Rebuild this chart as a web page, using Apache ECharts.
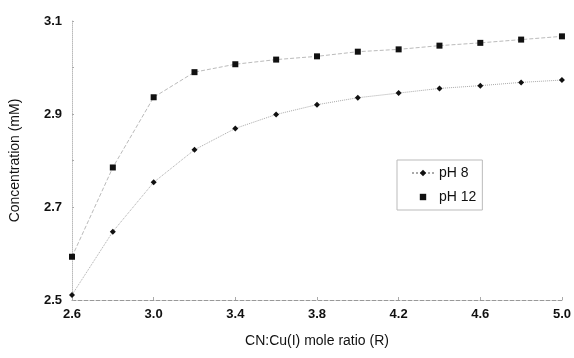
<!DOCTYPE html>
<html>
<head>
<meta charset="utf-8">
<script src="https://cdn.jsdelivr.net/npm/echarts@6/dist/echarts.min.js"></script>
<style>
  html, body { margin: 0; padding: 0; background: #fff; }
  #chart { width: 574px; height: 358px; }
</style>
</head>
<body>
<div id="chart"></div>
<script>
// CN:Cu(I) mole ratio (R)
const ratios = ['2.6', '2.8', '3.0', '3.2', '3.4', '3.6', '3.8', '4.0', '4.2', '4.4', '4.6', '4.8', '5.0'];
// Concentration (mM)
const ph8 = [2.511, 2.647, 2.753, 2.823, 2.869, 2.899, 2.920, 2.935, 2.945, 2.955, 2.961, 2.968, 2.973];
const ph12 = [2.593, 2.785, 2.936, 2.990, 3.007, 3.017, 3.024, 3.034, 3.039, 3.047, 3.053, 3.060, 3.067];
const yLabels = ['2.5', '2.7', '2.9', '3.1'];

const chart = echarts.init(document.getElementById('chart'));

const font = 'Liberation Sans, Arial, sans-serif';

const option = {
  backgroundColor: '#fff',
  animation: false,
  grid: { left: 69, right: 12, top: 21, bottom: 58 },
  legend: {
    orient: 'vertical',
    left: 397,
    top: 160,
    itemGap: 10,
    itemWidth: 22,
    itemHeight: 8,
    padding: [6, 6, 6, 14],
    borderColor: '#bbb',
    borderWidth: 1,
    textStyle: { fontFamily: font, fontSize: 14, color: '#111' },
    data: [
      { name: 'pH 8' },
      { name: 'pH 12', lineStyle: { opacity: 0 } }
    ]
  },
  xAxis: {
    type: 'category',
    data: ratios,
    boundaryGap: false,
    name: 'CN:Cu(I) mole ratio (R)',
    nameLocation: 'middle',
    nameGap: 34,
    nameTextStyle: { fontFamily: font, fontSize: 14, color: '#111' },
    axisLine: { lineStyle: { color: '#999', type: 'dashed', width: 1 } },
    axisTick: { show: true, inside: true, length: 3, lineStyle: { color: '#aaa' } },
    axisLabel: {
      interval: 1,
      margin: 8,
      fontFamily: font,
      fontSize: 13,
      fontWeight: 'bold',
      color: '#111'
    },
    splitLine: { show: false }
  },
  yAxis: {
    type: 'value',
    min: 2.5,
    max: 3.1,
    interval: 0.1,
    name: 'Concentration (mM)',
    nameLocation: 'middle',
    nameGap: 50,
    nameTextStyle: { fontFamily: font, fontSize: 14, color: '#111' },
    axisLine: { show: true, lineStyle: { color: '#bbb', type: 'dotted', width: 1 } },
    axisTick: { show: true, inside: true, length: 2, lineStyle: { color: '#aaa' } },
    axisLabel: {
      margin: 10,
      fontFamily: font,
      fontSize: 13,
      fontWeight: 'bold',
      color: '#111',
      formatter: function (v) {
        const s = v.toFixed(1);
        return yLabels.indexOf(s) >= 0 ? s : '';
      }
    },
    splitLine: { show: false }
  },
  series: [
    {
      name: 'pH 8',
      type: 'line',
      data: ph8,
      symbol: 'diamond',
      symbolSize: 6,
      itemStyle: { color: '#111' },
      lineStyle: { color: '#aaa', width: 1, type: 'dotted' }
    },
    {
      name: 'pH 12',
      type: 'line',
      data: ph12,
      symbol: 'rect',
      symbolSize: 6,
      itemStyle: { color: '#111' },
      lineStyle: { color: '#bbb', width: 1, type: 'dashed' }
    }
  ]
};

chart.setOption(option);
</script>
</body>
</html>
